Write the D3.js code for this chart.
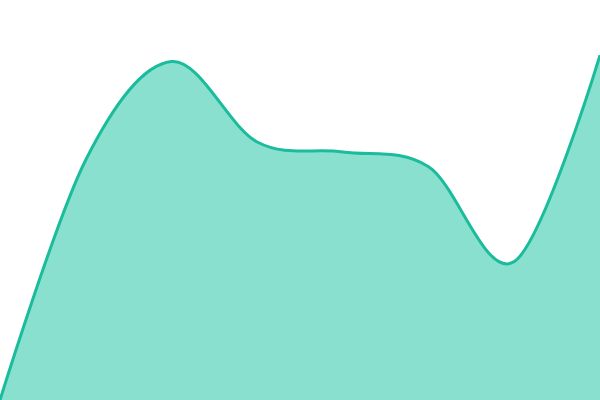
<!DOCTYPE html>
<html><head><meta charset="utf-8">
<script src="https://cdn.jsdelivr.net/npm/d3@7"></script>
<style>html,body{margin:0;padding:0;background:#fff;overflow:hidden}</style>
</head><body>
<svg id="chart" width="600" height="400"></svg>
<script>
const categories = [0, 1, 2, 3, 4, 5, 6, 7];
const values = [0, 60, 84.6, 64.5, 62, 58.3, 34.6, 86.2];

const width = 600, height = 400;
const svg = d3.select("#chart");
const x = d3.scaleLinear().domain([0, categories.length - 1]).range([0, width]);
const y = d3.scaleLinear().domain([0, 100]).range([height, 0]);
const data = categories.map((c, i) => ({c, v: values[i]}));
const curve = d3.curveCardinal;
const area = d3.area().x(d => x(d.c)).y0(y(0)).y1(d => y(d.v)).curve(curve);
const line = d3.line().x(d => x(d.c)).y(d => y(d.v)).curve(curve);
svg.append("path").datum(data).attr("d", area).attr("fill", "#8ae0cf");
svg.append("path").datum(data).attr("d", line).attr("fill", "none").attr("stroke", "#1abc9c").attr("stroke-width", 3);
</script>
</body></html>
